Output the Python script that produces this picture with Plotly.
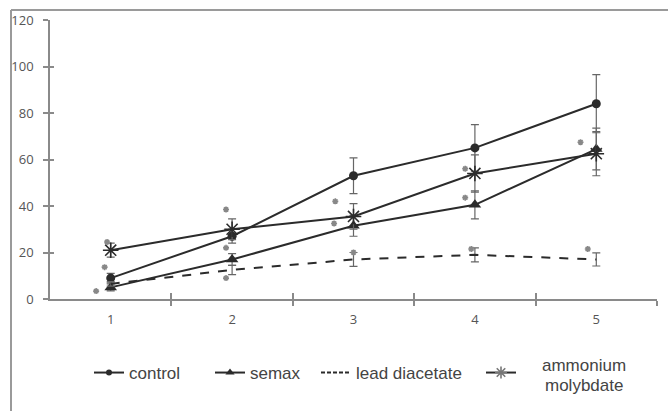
import plotly.graph_objects as go

days = [1, 2, 3, 4, 5]
tick_labels = ["1", "2", "3", "4", "5"]

control = [9, 27, 53, 65, 84]
control_err = [2, 3, 7.7, 10, 12.5]
semax = [5, 17, 31.5, 40.5, 64.5]
semax_err = [1.5, 2.5, 4.5, 6, 9]
lead = [6.5, 12.5, 17, 19, 17]
lead_err = [1, 2, 3, 3, 2.8]
ammonium = [21, 30, 35.5, 54, 62.5]
ammonium_err = [3, 4.5, 5.5, 8, 9.5]

series_names = ["control", "semax", "lead diacetate", "ammonium molybdate"]

# significance asterisks
sig_x = [0.88, 0.95, 0.97, 1.95, 1.95, 1.95, 2.85, 2.84, 3.0, 3.92, 3.92, 3.97, 4.87, 4.93]
sig_y = [3.4, 13.7, 24.5, 38.5, 22, 9, 42, 32.5, 20, 56, 43.6, 21.5, 67.4, 21.5]

line_col = "#2b2b2b"
err_col = "#666666"

W, H = 668, 411
L, R, T, B = 50, 11, 20, 112
pw, ph = W - L - R, H - T - B
fx = lambda px: (px - L) / pw
fy = lambda py: (H - B - py) / ph

fig = go.Figure()

specs = [
    (series_names[0], control, control_err, "circle", 9, "solid", 0, 6, "legend"),
    (series_names[1], semax, semax_err, "triangle-up", 11, "solid", 0, 8, "legend2"),
    (series_names[2], lead, lead_err, None, 1, "dash", 0, 1, "legend3"),
    (series_names[3], ammonium, ammonium_err, "asterisk-open", 13, "solid", 1.6, 10, "legend4"),
]

for name, y, err, sym, size, dash, mline, lsize, lg in specs:
    fig.add_trace(go.Scatter(
        x=days, y=y, name=name, showlegend=False,
        mode="lines+markers" if sym else "lines",
        line=dict(color=line_col, width=2, dash=dash),
        marker=dict(symbol=sym or "circle", size=size, color=line_col,
                    line=dict(color=line_col, width=mline)),
        error_y=dict(type="data", array=err, visible=True, color=err_col,
                     thickness=1.2, width=4),
    ))
    # legend-only entry with smaller symbol
    fig.add_trace(go.Scatter(
        x=[None], y=[None], name=(name if lg != "legend4" else " "), legend=lg,
        mode="lines+markers" if sym else "lines",
        line=dict(color=line_col, width=2, dash="4px,2px" if dash == "dash" else dash),
        marker=dict(symbol=sym or "circle", size=lsize,
                    color=line_col if lg != "legend4" else "#777777",
                    line=dict(color="#777777" if lg == "legend4" else line_col, width=mline)),
    ))

fig.add_trace(go.Scatter(
    x=sig_x, y=sig_y, mode="markers", showlegend=False,
    marker=dict(symbol="asterisk-open", size=5, color="#888888",
                line=dict(color="#888888", width=1.6)),
    hoverinfo="skip",
))

fig.add_trace(go.Scatter(x=[None], y=[None], xaxis="x2", yaxis="y2", showlegend=False))

leg_font = dict(size=17, color="#444444", family="Liberation Sans, Arial")

def leg(px):
    return dict(orientation="h", x=fx(px), y=fy(355), xanchor="left", yanchor="top",
                font=leg_font, bgcolor="rgba(0,0,0,0)", itemwidth=30)

ammo_lines = series_names[3].split(" ")
tick_font = dict(family="Open Sans", size=13, color="#555555")

fig.update_layout(
    width=W, height=H,
    margin=dict(l=L, r=R, t=T, b=B, autoexpand=False),
    paper_bgcolor="white", plot_bgcolor="white",
    font=dict(family="Liberation Sans, Arial", color="#444444", size=14),
    xaxis=dict(range=[0.5, 5.5], tickvals=days, ticktext=tick_labels,
               ticks="", showgrid=False, zeroline=False, showline=True,
               linecolor="#8a8a8a", linewidth=1.5, ticklabelstandoff=8,
               tickfont=tick_font,
               minor=dict(tickvals=[1.5, 2.5, 3.5, 4.5, 5.5], ticks="outside",
                          ticklen=5, tickcolor="#8a8a8a", tickwidth=1.5)),
    xaxis2=dict(range=[0.5, 5.5], overlaying="x", tickvals=[1.5, 2.5, 3.5, 4.5, 5.5],
                ticks="inside", ticklen=6, tickcolor="#8a8a8a", tickwidth=1.5,
                showticklabels=False, showgrid=False, zeroline=False, showline=False,
                anchor="y"),
    yaxis=dict(range=[0, 120], tickvals=[0, 20, 40, 60, 80, 100, 120],
               ticks="outside", ticklen=5, tickcolor="#8a8a8a", tickwidth=1.5,
               showgrid=False, zeroline=False, showline=True,
               linecolor="#8a8a8a", linewidth=1.5, ticklabelstandoff=7,
               tickfont=tick_font),
    yaxis2=dict(range=[0, 120], overlaying="y", tickvals=[20, 40, 60, 80, 100, 120],
                ticks="inside", ticklen=4, tickcolor="#8a8a8a", tickwidth=1.5,
                showticklabels=False, showgrid=False, zeroline=False, showline=False,
                anchor="x"),
    legend=leg(89),
    legend2=leg(210),
    legend3=leg(316),
    legend4=leg(481),
    annotations=[
        dict(text=ammo_lines[0], xref="paper", yref="paper", x=fx(584), y=fy(365),
             xanchor="center", yanchor="middle", showarrow=False, font=leg_font),
        dict(text=ammo_lines[1], xref="paper", yref="paper", x=fx(584), y=fy(385),
             xanchor="center", yanchor="middle", showarrow=False, font=leg_font),
    ],
    shapes=[
        dict(type="line", xref="paper", yref="paper", x0=fx(11), x1=fx(W + 5),
             y0=fy(10), y1=fy(10), line=dict(color="#9a9a9a", width=2)),
        dict(type="line", xref="paper", yref="paper", x0=fx(11), x1=fx(11),
             y0=fy(10), y1=fy(H + 5), line=dict(color="#9a9a9a", width=2)),
    ],
)

fig.write_html("out.html", config={"displayModeBar": False},
               post_script="document.body.style.margin='0';document.body.style.overflow='hidden';")
